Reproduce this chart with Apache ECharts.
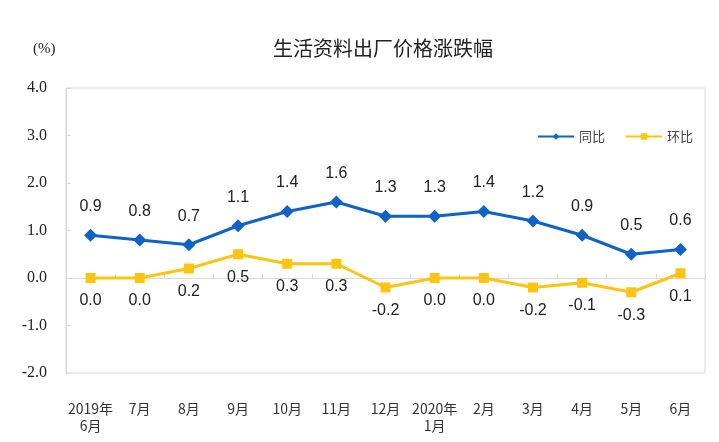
<!DOCTYPE html>
<html><head><meta charset="utf-8">
<script src="https://cdn.jsdelivr.net/npm/echarts@6/dist/echarts.min.js"></script>
<style>html,body{margin:0;padding:0;background:#fff}#c{width:719px;height:442px}</style>
</head><body><div id="c"></div>
<script>
const categories = ['2019年\n6月','7月','8月','9月','10月','11月','12月','2020年\n1月','2月','3月','4月','5月','6月'];
const yoy = [0.9,0.8,0.7,1.1,1.4,1.6,1.3,1.3,1.4,1.2,0.9,0.5,0.6];
const mom = [0.0,0.0,0.2,0.5,0.3,0.3,-0.2,0.0,0.0,-0.2,-0.1,-0.3,0.1];
const yTicks = [-2,-1,0,1,2,3,4];

const chart = echarts.init(document.getElementById('c'));
chart.setOption({
  animation:false,
  title:{text:'生活资料出厂价格涨跌幅',left:378,top:33,textAlign:'center',
    textStyle:{fontFamily:'Noto Sans CJK SC',fontSize:20,fontWeight:'normal',color:'#222'}},
  graphic:[{type:'text',left:33,top:42,style:{text:'(%)',font:'15px "Liberation Serif"',fill:'#222'}}],
  legend:{left:532,top:125,width:200,orient:'horizontal',itemWidth:36,itemHeight:8,itemGap:20,
    textStyle:{fontFamily:'Noto Sans CJK SC',fontSize:13,color:'#444'},
    data:['同比','环比']},
  grid:{left:66,top:88,width:639,height:285,show:true,borderColor:'#D9D9D9',borderWidth:1},
  xAxis:[{type:'category',data:categories,boundaryGap:true,
    axisLine:{show:false,onZero:false},axisTick:{show:false},
    axisLabel:{margin:27,interval:0,fontFamily:'Noto Sans CJK SC',fontSize:14,color:'#333',lineHeight:17}},
    {type:'category',data:categories,boundaryGap:true,position:'bottom',
    axisLine:{show:true,onZero:true,lineStyle:{color:'#D9D9D9'}},
    axisTick:{show:true,inside:true,length:4,interval:0,lineStyle:{color:'#D9D9D9'}},
    axisLabel:{show:false}}],
  yAxis:{type:'value',min:yTicks[0],max:yTicks[yTicks.length-1],interval:1,
    axisLine:{show:true,lineStyle:{color:'#D9D9D9'}},
    axisTick:{show:true,inside:true,length:5,lineStyle:{color:'#D9D9D9'}},
    splitLine:{show:false},
    axisLabel:{margin:19,formatter:v=>v.toFixed(1),fontFamily:'Liberation Serif',fontSize:16,color:'#222'}},
  series:[
    {name:'同比',type:'line',data:yoy,symbol:'diamond',symbolSize:13,z:3,
      lineStyle:{width:3,color:'#0F62C6'},itemStyle:{color:'#0F62C6'},
      label:{show:true,position:'top',distance:14,formatter:p=>p.value.toFixed(1),
        fontFamily:'Liberation Sans',fontSize:16,color:'#222'}},
    {name:'环比',type:'line',data:mom,symbol:'rect',symbolSize:10,
      lineStyle:{width:3,color:'#FFC312'},itemStyle:{color:'#FFC312'},
      label:{show:true,position:'bottom',distance:10,formatter:p=>p.value.toFixed(1),
        fontFamily:'Liberation Sans',fontSize:16,color:'#222'}}
  ]
});
</script></body></html>
